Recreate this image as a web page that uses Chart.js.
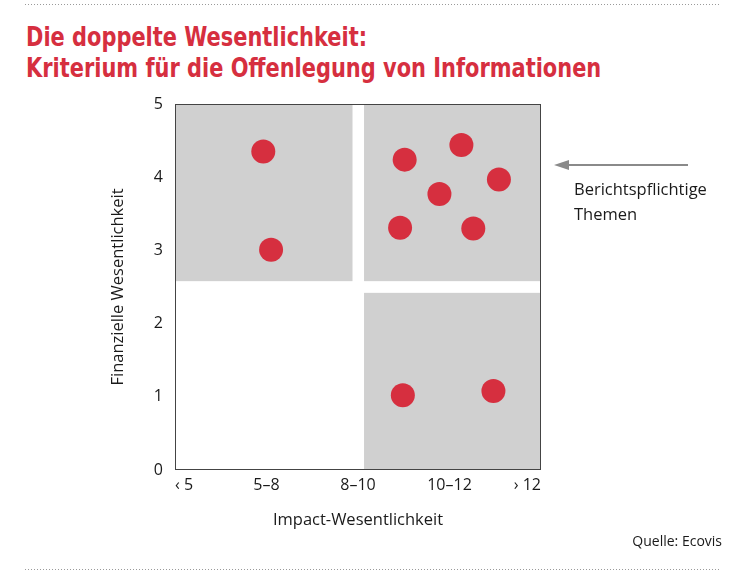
<!DOCTYPE html>
<html lang="de">
<head>
<meta charset="utf-8">
<script src="https://cdn.jsdelivr.net/npm/chart.js@4.4.1/dist/chart.umd.min.js"></script>
<style>
  body { margin: 0; width: 755px; height: 572px; position: relative; background: #fff; overflow: hidden; font-family: "Open Sans", sans-serif; color: #1a1a1a; }
  .dots { position: absolute; left: 25px; width: 696px; height: 1px;
          background: repeating-linear-gradient(to right, #9a9a9a 0 1px, transparent 1px 3px); }
  #title { position: absolute; left: 26px; top: 22px; margin: 0; font: bold 26px "DejaVu Sans Condensed", "DejaVu Sans", sans-serif;
           line-height: 31px; color: #d62f3f; white-space: nowrap;
           transform: scaleX(0.895); transform-origin: 0 0; }
  #chart { position: absolute; left: 0; top: 0; }
  .note { position: absolute; left: 574px; top: 176px; font-size: 16.5px; line-height: 25px; }
  .source { position: absolute; right: 33px; top: 531px; font-size: 14px; }
  #arrow { position: absolute; left: 550px; top: 157px; }
</style>
</head>
<body>
<div class="dots" style="top:4px"></div>
<h1 id="title">Die doppelte Wesentlichkeit:<br>Kriterium für die Offenlegung von Informationen</h1>
<canvas id="chart" width="755" height="572"></canvas>
<svg id="arrow" width="145" height="16">
  <line x1="138" y1="8" x2="14" y2="8" stroke="#8a8a8a" stroke-width="2"/>
  <polygon points="4,8 19,3 19,13" fill="#8a8a8a"/>
</svg>
<div class="note">Berichtspflichtige<br>Themen</div>
<div class="source">Quelle: Ecovis</div>
<div class="dots" style="top:569px"></div>

<script>
// ================= DATEN =================
const xLabels = ["‹ 5", "5–8", "8–10", "10–12", "› 12"];
const yTicks = [0, 1, 2, 3, 4, 5];

// Themen: Impact (x) und finanzielle Wesentlichkeit (y)
const impactX = [0.965, 1.05, 2.51, 3.13, 3.54, 2.89, 2.46, 3.26, 2.49, 3.48];
const finanzY = [4.35, 3.01, 4.24, 4.44, 3.97, 3.77, 3.31, 3.30, 1.02, 1.08];

// graue Felder (in Achseneinheiten)
const zoneX0 = [0, 2.066, 2.066];
const zoneX1 = [1.94, 4, 4];
const zoneY0 = [2.58, 2.58, 0];
const zoneY1 = [5, 5, 2.42];

const RED = "#d62f3f";
const GREY = "#d0d0d0";
const TEXT = "#1a1a1a";

const points = impactX.map((x, i) => ({ x: x, y: finanzY[i] }));

// ================= FELDER + RAHMEN =================
const zonesPlugin = {
  id: "zones",
  beforeDatasetsDraw(chart) {
    const { ctx, chartArea: a, scales: { x, y } } = chart;
    ctx.save();
    ctx.fillStyle = GREY;
    for (let i = 0; i < zoneX0.length; i++) {
      const l = x.getPixelForValue(zoneX0[i]);
      const r = x.getPixelForValue(zoneX1[i]);
      const t = y.getPixelForValue(zoneY1[i]);
      const b = y.getPixelForValue(zoneY0[i]);
      ctx.fillRect(l, t, r - l, b - t);
    }
    ctx.strokeStyle = "#444";
    ctx.lineWidth = 1;
    ctx.strokeRect(a.left + 0.5, a.top + 0.5, a.width - 1, a.height - 1);
    ctx.restore();
  }
};

const tickFont = { family: "'Open Sans', sans-serif", size: 16 };
const titleFont = { family: "'Open Sans', sans-serif", size: 16.5 };

new Chart(document.getElementById("chart"), {
  type: "scatter",
  data: {
    datasets: [{
      data: points,
      backgroundColor: RED,
      borderWidth: 0,
      pointRadius: 12,
      pointHoverRadius: 12
    }]
  },
  options: {
    responsive: false,
    animation: false,
    events: [],
    layout: { padding: { left: 0, top: 104, right: 214, bottom: 0 } },
    plugins: { legend: { display: false }, tooltip: { enabled: false } },
    scales: {
      x: {
        type: "linear",
        min: 0,
        max: 4,
        grid: { display: false, drawTicks: false },
        border: { display: false },
        afterFit: (s) => { s.height = 102; },
        afterBuildTicks: (s) => { s.ticks = xLabels.map((_, i) => ({ value: i })); },
        ticks: {
          align: "inner",
          padding: 6,
          color: TEXT,
          font: tickFont,
          callback: (v) => xLabels[v]
        },
        title: {
          display: true,
          text: "Impact-Wesentlichkeit",
          color: TEXT,
          font: titleFont,
          padding: { top: 0, bottom: 42 }
        }
      },
      y: {
        min: 0,
        max: 5,
        grid: { display: false, drawTicks: false },
        border: { display: false },
        afterFit: (s) => { s.width = 175; },
        afterBuildTicks: (s) => { s.ticks = yTicks.map((v) => ({ value: v })); },
        ticks: { padding: 12, color: TEXT, font: tickFont },
        title: {
          display: true,
          text: "Finanzielle Wesentlichkeit",
          color: TEXT,
          font: titleFont,
          padding: { top: 108, bottom: 0 }
        }
      }
    }
  },
  plugins: [zonesPlugin]
});
</script>
</body>
</html>
